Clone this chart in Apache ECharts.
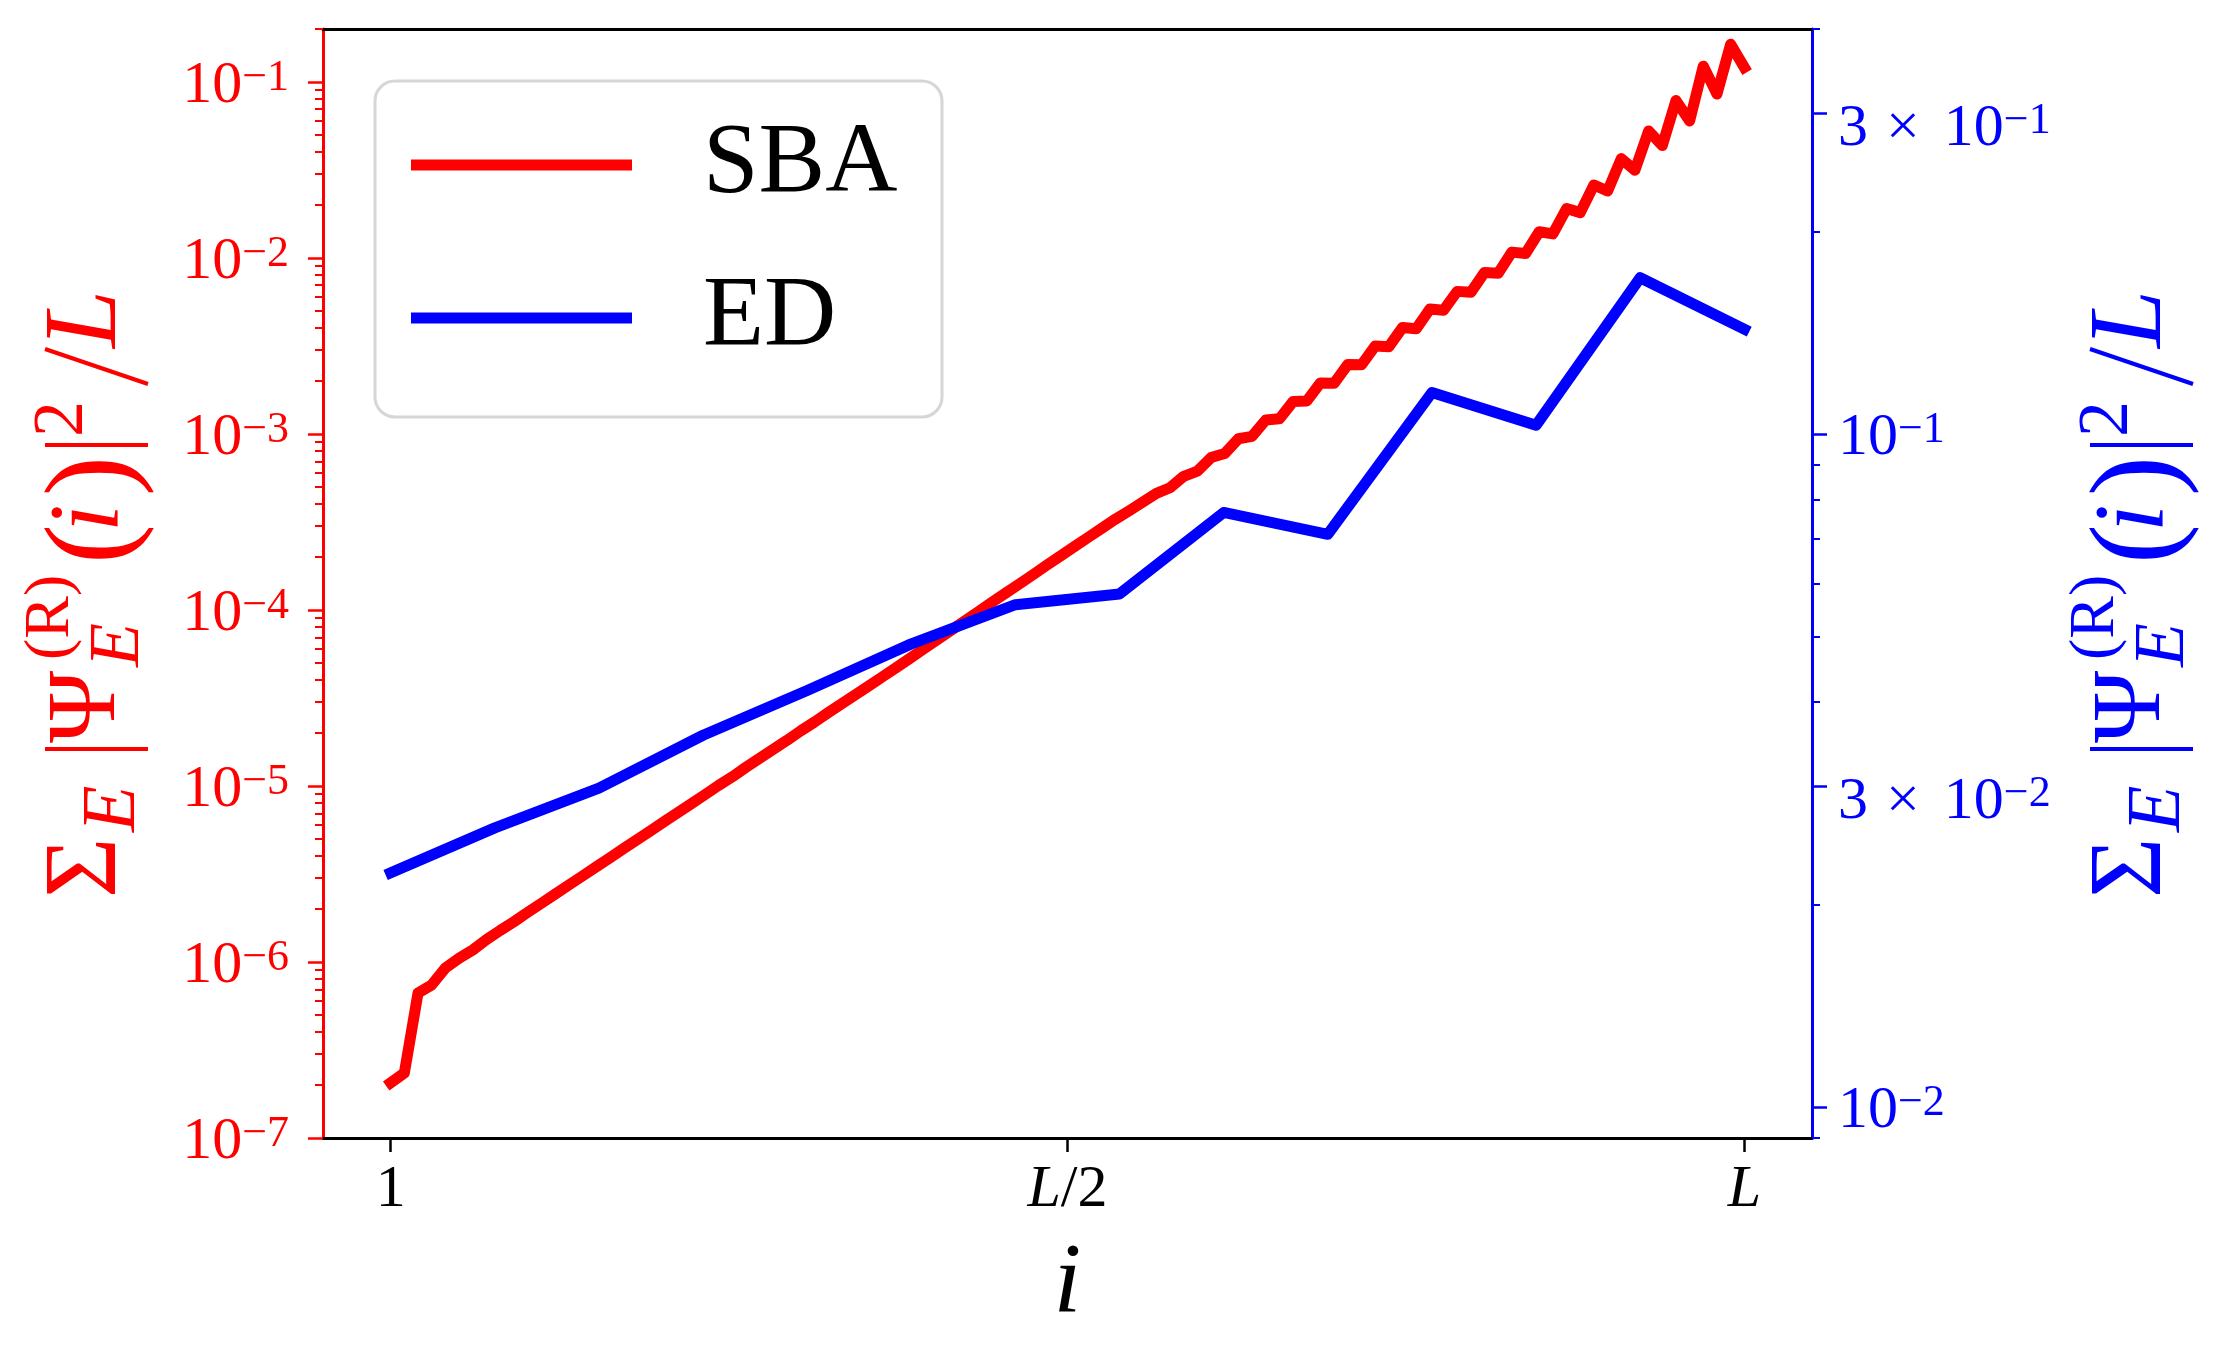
<!DOCTYPE html>
<html><head><meta charset="utf-8">
<script src="https://cdn.jsdelivr.net/npm/echarts@6/dist/echarts.min.js"></script>
<style>html,body{margin:0;padding:0;background:#fff}#c{width:2238px;height:1367px}</style>
</head><body><div id="c"></div>
<script>
// ---- data ----
const seriesNames = ['SBA', 'ED'];
// SBA: i = 1..L (L = 100 sites), left log axis
const sbaValues = [
 2.06e-7, 2.34e-7, 6.67e-7, 7.41e-7, 9.25e-7, 1.05e-6, 1.17e-6, 1.34e-6, 1.51e-6, 1.69e-6,
 1.91e-6, 2.15e-6, 2.42e-6, 2.73e-6, 3.07e-6, 3.46e-6, 3.89e-6, 4.39e-6, 4.94e-6, 5.56e-6,
 6.27e-6, 7.05e-6, 7.94e-6, 8.95e-6, 1.01e-5, 1.13e-5, 1.28e-5, 1.44e-5, 1.62e-5, 1.82e-5,
 2.06e-5, 2.31e-5, 2.61e-5, 2.94e-5, 3.30e-5, 3.72e-5, 4.19e-5, 4.72e-5, 5.33e-5, 6.02e-5,
 6.80e-5, 7.68e-5, 8.67e-5, 9.79e-5, 1.11e-4, 1.25e-4, 1.41e-4, 1.59e-4, 1.80e-4, 2.03e-4,
 2.29e-4, 2.58e-4, 2.91e-4, 3.28e-4, 3.66e-4, 4.10e-4, 4.60e-4, 4.95e-4, 5.75e-4, 6.15e-4,
 7.35e-4, 7.75e-4, 9.40e-4, 9.70e-4, 1.20e-3, 1.22e-3, 1.53e-3, 1.54e-3, 1.95e-3, 1.94e-3,
 2.48e-3, 2.47e-3, 3.16e-3, 3.13e-3, 4.03e-3, 3.96e-3, 5.13e-3, 5.05e-3, 6.46e-3, 6.38e-3,
 8.28e-3, 8.20e-3, 1.08e-2, 1.06e-2, 1.41e-2, 1.37e-2, 1.91e-2, 1.81e-2, 2.60e-2, 2.40e-2,
 3.67e-2, 3.15e-2, 5.27e-2, 4.35e-2, 7.85e-2, 6.00e-2, 1.23e-1, 8.55e-2, 1.64e-1, 1.21e-1
];
// ED: i = 1..L (L = 14 sites), right log axis
const edValues = [0.0223, 0.0260, 0.0298, 0.0357, 0.0416, 0.0488, 0.0558, 0.0579,
                  0.0765, 0.0710, 0.1153, 0.1031, 0.1708, 0.1432];

const sbaXRange = [-3.95, 104.95];
const edXRange = [0.35, 14.65];
const xTickValues = [1, 50.5, 100];
const xTickLabels = ['{n|1}', '{it|L}{n|/2}', '{it|L}'];

const leftRange = [1e-7, 0.2];
const leftMajorTicks = [1e-7, 1e-6, 1e-5, 1e-4, 1e-3, 1e-2, 1e-1];
const leftMajorExps = ['−7', '−6', '−5', '−4', '−3', '−2', '−1'];
const leftMinorTicks = [
 2e-7,3e-7,4e-7,5e-7,6e-7,7e-7,8e-7,9e-7,
 2e-6,3e-6,4e-6,5e-6,6e-6,7e-6,8e-6,9e-6,
 2e-5,3e-5,4e-5,5e-5,6e-5,7e-5,8e-5,9e-5,
 2e-4,3e-4,4e-4,5e-4,6e-4,7e-4,8e-4,9e-4,
 2e-3,3e-3,4e-3,5e-3,6e-3,7e-3,8e-3,9e-3,
 2e-2,3e-2,4e-2,5e-2,6e-2,7e-2,8e-2,9e-2,
 0.2];

const rightRange = [0.009, 0.4];
const rightMajorTicks = [0.01, 0.03, 0.1, 0.3];
const rightMantissas = ['', '3', '', '3'];
const rightExps = ['−2', '−2', '−1', '−1'];
const rightMinorTicks = [0.009, 0.02, 0.04, 0.05, 0.06, 0.07, 0.08, 0.09, 0.2, 0.4];

// ---- chart ----
const FONT = '"Liberation Serif", serif';
const RED = '#ff0000', BLUE = '#0000ff';
const lg = v => Math.log10(v);
const findIdx = (arr, v) => arr.findIndex(a => Math.abs(a - v) < 1e-6);

const tickRich = (color) => ({
  m:  {fontFamily: FONT, fontSize: 60, lineHeight: 60, verticalAlign: 'top', color, padding: [4, 0, 0, 0]},
  s:  {fontFamily: FONT, fontSize: 44, lineHeight: 26, verticalAlign: 'top', color, padding: [4, 0, 0, 0]},
  m3: {fontFamily: FONT, fontSize: 60, lineHeight: 60, verticalAlign: 'top', color, padding: [16, 0, 0, 0]},
  x3: {fontFamily: FONT, fontSize: 60, lineHeight: 60, verticalAlign: 'top', color, padding: [16, 24, 0, 18]},
  s3: {fontFamily: FONT, fontSize: 44, lineHeight: 26, verticalAlign: 'top', color, padding: [16, 0, 0, 0]}
});

function titleGroup(x0, color) {
  const t = (text, ux, uy, size, italic) => ({
    type: 'text', x: ux, y: uy,
    style: {text, fill: color, fontFamily: FONT, fontSize: size,
            fontStyle: italic ? 'italic' : 'normal', align: 'left', verticalAlign: 'middle'}
  });
  const l = (x1, y1, x2, y2, w) => ({type: 'line', shape: {x1, y1, x2, y2},
    style: {stroke: color, lineWidth: w}});
  return {
    type: 'group', x: x0, y: 898, rotation: Math.PI / 2,
    children: [
      t('Σ', 0, -35, 104, false),
      t('E', 66, -9, 76, true),
      l(149, -78, 149, 25, 4),
      t('Ψ', 155, -35, 98, false),
      t('(R)', 238, -72, 64, false),
      t('E', 231, -4, 72, true),
      t('(', 334, -27, 120, false),
      t('i', 366, -32, 100, true),
      t(')', 402, -27, 120, false),
      l(453, -78, 453, 25, 4),
      t('2', 461, -60, 72, false),
      l(514, 25, 549, -78, 4),
      t('L', 550, -35, 104, true)
    ]
  };
}

const chart = echarts.init(document.getElementById('c'), null, {renderer: 'canvas'});
chart.setOption({
  animation: false,
  backgroundColor: '#ffffff',
  grid: {left: 323, right: 426, top: 29, bottom: 229, containLabel: false},
  legend: {
    data: seriesNames, orient: 'vertical', left: 411, top: 115,
    padding: 0, itemWidth: 221, itemHeight: 11, itemGap: 53, icon: 'rect',
    selectedMode: false,
    textStyle: {fontFamily: FONT, fontSize: 100, lineHeight: 100, color: '#000', padding: [0, 0, 0, 66]}
  },
  graphic: [
    {type: 'rect', z: 1, shape: {x: 375, y: 81, width: 567, height: 336, r: 20},
     style: {fill: '#ffffff', stroke: '#d6d6d6', lineWidth: 3}},
    titleGroup(123, RED),
    titleGroup(2168, BLUE)
  ],
  xAxis: [
    {
      type: 'value', position: 'bottom', min: sbaXRange[0], max: sbaXRange[1],
      axisLine: {show: true, onZero: false, lineStyle: {color: '#000', width: 3}},
      axisTick: {show: true, customValues: xTickValues, length: 14, lineStyle: {color: '#000', width: 2.5}},
      axisLabel: {
        show: true, customValues: xTickValues, margin: 22,
        formatter: v => xTickLabels[findIdx(xTickValues, v)] || '',
        rich: {
          n: {fontFamily: FONT, fontSize: 60, lineHeight: 60, color: '#000'},
          it: {fontFamily: FONT, fontSize: 60, lineHeight: 60, fontStyle: 'italic', color: '#000'}
        }
      },
      splitLine: {show: false},
      name: 'i', nameLocation: 'middle', nameGap: 97,
      nameTextStyle: {fontFamily: FONT, fontStyle: 'italic', fontSize: 100, color: '#000'}
    },
    {
      type: 'value', position: 'top', min: edXRange[0], max: edXRange[1],
      axisLine: {show: true, onZero: false, lineStyle: {color: '#000', width: 3}},
      axisTick: {show: false}, axisLabel: {show: false}, splitLine: {show: false}
    }
  ],
  yAxis: [
    {
      type: 'log', logBase: 10, position: 'left', min: leftRange[0], max: leftRange[1],
      axisLine: {show: true, onZero: false, lineStyle: {color: RED, width: 3}},
      axisTick: {show: false}, axisLabel: {show: false}, splitLine: {show: false},
      minorTick: {show: false}, minorSplitLine: {show: false}
    },
    {
      type: 'log', logBase: 10, position: 'right', min: rightRange[0], max: rightRange[1],
      axisLine: {show: true, onZero: false, lineStyle: {color: BLUE, width: 3}},
      axisTick: {show: false}, axisLabel: {show: false}, splitLine: {show: false},
      minorTick: {show: false}, minorSplitLine: {show: false}
    },
    {
      type: 'value', position: 'left', min: lg(leftRange[0]), max: lg(leftRange[1]),
      axisLine: {show: false, onZero: false},
      axisTick: {show: true, customValues: leftMajorTicks.map(lg), length: 15, lineStyle: {color: RED, width: 2.5}},
      axisLabel: {
        show: true, customValues: leftMajorTicks.map(lg), margin: 34,
        formatter: v => { const k = findIdx(leftMajorTicks.map(lg), v); return k < 0 ? '' : '{m|10}{s|' + leftMajorExps[k] + '}'; },
        rich: tickRich(RED)
      },
      splitLine: {show: false}
    },
    {
      type: 'value', position: 'left', min: lg(leftRange[0]), max: lg(leftRange[1]),
      axisLine: {show: false, onZero: false},
      axisTick: {show: true, customValues: leftMinorTicks.map(lg), length: 8, lineStyle: {color: RED, width: 2}},
      axisLabel: {show: false}, splitLine: {show: false}
    },
    {
      type: 'value', position: 'right', min: lg(rightRange[0]), max: lg(rightRange[1]),
      axisLine: {show: false, onZero: false},
      axisTick: {show: true, customValues: rightMajorTicks.map(lg), length: 15, lineStyle: {color: BLUE, width: 2.5}},
      axisLabel: {
        show: true, customValues: rightMajorTicks.map(lg), margin: 26,
        formatter: v => {
          const k = findIdx(rightMajorTicks.map(lg), v);
          if (k < 0) return '';
          if (rightMantissas[k]) return '{m3|' + rightMantissas[k] + '}{x3|×}{m3|10}{s3|' + rightExps[k] + '}';
          return '{m|10}{s|' + rightExps[k] + '}';
        },
        rich: tickRich(BLUE)
      },
      splitLine: {show: false}
    },
    {
      type: 'value', position: 'right', min: lg(rightRange[0]), max: lg(rightRange[1]),
      axisLine: {show: false, onZero: false},
      axisTick: {show: true, customValues: rightMinorTicks.map(lg), length: 8, lineStyle: {color: BLUE, width: 2}},
      axisLabel: {show: false}, splitLine: {show: false}
    }
  ],
  series: [
    {
      name: 'SBA', type: 'line', xAxisIndex: 0, yAxisIndex: 0,
      data: sbaValues.map((v, k) => [k + 1, v]),
      showSymbol: false, symbol: 'none', color: RED,
      lineStyle: {color: RED, width: 11, cap: 'square', join: 'round'}
    },
    {
      name: 'ED', type: 'line', xAxisIndex: 1, yAxisIndex: 1,
      data: edValues.map((v, k) => [k + 1, v]),
      showSymbol: false, symbol: 'none', color: BLUE,
      lineStyle: {color: BLUE, width: 11, cap: 'square', join: 'round'}
    }
  ]
});
</script>
</body></html>
